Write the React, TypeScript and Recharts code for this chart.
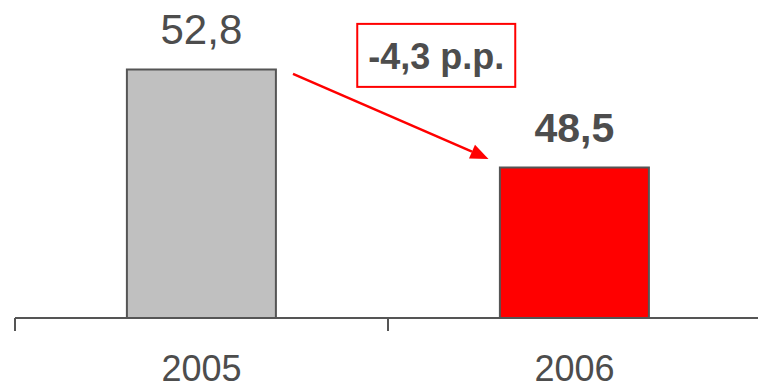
import React from 'react';
import { BarChart, Bar, XAxis, YAxis, Cell, LabelList, ReferenceLine } from 'recharts';

// Share values by year
const years = ['2005', '2006'];
const shares = [52.8, 48.5];
const barColors = ['#c0c0c0', '#ff0000'];
const labelWeights = ['normal', 'bold'];

// Arrow annotation endpoints (value scale), from the 2005 bar down to the 2006 bar
const arrowFromValue = 52.61;
const arrowToValue = 48.88;

const data = years.map((year, i) => ({ year, share: shares[i] }));
const change = shares[1] - shares[0];

const fmt = (v: number) => v.toFixed(1).replace('.', ',');
const TEXT = '#4d4d4d';
const FONT = '"Liberation Sans", Arial, sans-serif';

const ValueLabel = (props: any) => {
  const { x, y, width, value, index } = props;
  const bold = labelWeights[index] === 'bold';
  return (
    <text
      x={x + width / 2}
      y={y - 26}
      textAnchor="middle"
      fontFamily={FONT}
      fontSize={bold ? 41 : 42}
      fontWeight={bold ? 'bold' : 'normal'}
      fill={TEXT}
    >
      {fmt(value)}
    </text>
  );
};

const YearTick = (props: any) => {
  const { x, y, payload } = props;
  const edge = x - (payload.offset || 0);
  return (
    <g>
      <line x1={edge} y1={y} x2={edge} y2={y + 13} stroke="#555" strokeWidth={2} />
      <text x={x} y={y + 63} textAnchor="middle" fontFamily={FONT} fontSize={36} fill={TEXT}>
        {payload.value}
      </text>
    </g>
  );
};

// Arrow between bar centres, trimmed to start right of the first bar and end left of the second
const ChangeArrow = (props: any) => {
  const { x1, y1, x2, y2 } = props;
  const sx = x1 + 91.5;
  const ex = x2 - 86;
  const sy = y1;
  const ey = y2;
  const dx = ex - sx;
  const dy = ey - sy;
  const len = Math.sqrt(dx * dx + dy * dy);
  const ux = dx / len;
  const uy = dy / len;
  const headLen = 18;
  const headHalf = 7.5;
  const bx = ex - ux * headLen;
  const by = ey - uy * headLen;
  const p1 = `${ex},${ey}`;
  const p2 = `${bx - uy * headHalf},${by + ux * headHalf}`;
  const p3 = `${bx + uy * headHalf},${by - ux * headHalf}`;
  const mx = (sx + ex) / 2;
  const my = (sy + ey) / 2;
  const boxW = 158;
  const boxH = 63;
  const bcx = mx + 45.5;
  const bcy = my - 61;
  return (
    <g>
      <line x1={sx} y1={sy} x2={bx} y2={by} stroke="#ff0000" strokeWidth={2.5} />
      <polygon points={`${p1} ${p2} ${p3}`} fill="#ff0000" />
      <rect
        x={bcx - boxW / 2}
        y={bcy - boxH / 2}
        width={boxW}
        height={boxH}
        fill="#ffffff"
        stroke="#ff0000"
        strokeWidth={2}
      />
      <text
        x={bcx}
        y={bcy + 14}
        textAnchor="middle"
        fontFamily={FONT}
        fontSize={36}
        fontWeight="bold"
        fill={TEXT}
      >
        {`${fmt(change)} p.p.`}
      </text>
    </g>
  );
};

export default function App() {
  return (
    <div style={{ position: 'absolute', left: 0, top: 0, width: 758, height: 390, overflow: 'hidden', background: '#fff' }}>
      <BarChart
        width={761}
        height={390}
        data={data}
        margin={{ top: 19.4, right: 0, bottom: 0, left: 15 }}
        barCategoryGap="30%"
      >
        <YAxis hide domain={[41.9, 55]} allowDataOverflow />
        <XAxis
          dataKey="year"
          height={72}
          axisLine={{ stroke: '#555', strokeWidth: 2 }}
          tickLine={false}
          tickSize={0}
          tickMargin={0}
          tick={<YearTick />}
          interval={0}
        />
        <Bar dataKey="share" stroke="#555" strokeWidth={2} isAnimationActive={false}>
          {data.map((d, i) => (
            <Cell key={d.year} fill={barColors[i]} />
          ))}
          <LabelList dataKey="share" content={<ValueLabel />} />
        </Bar>
        <ReferenceLine
          segment={[
            { x: years[0], y: arrowFromValue },
            { x: years[1], y: arrowToValue },
          ]}
          ifOverflow="visible"
          shape={(p: any) => <ChangeArrow {...p} />}
        />
      </BarChart>
    </div>
  );
}
